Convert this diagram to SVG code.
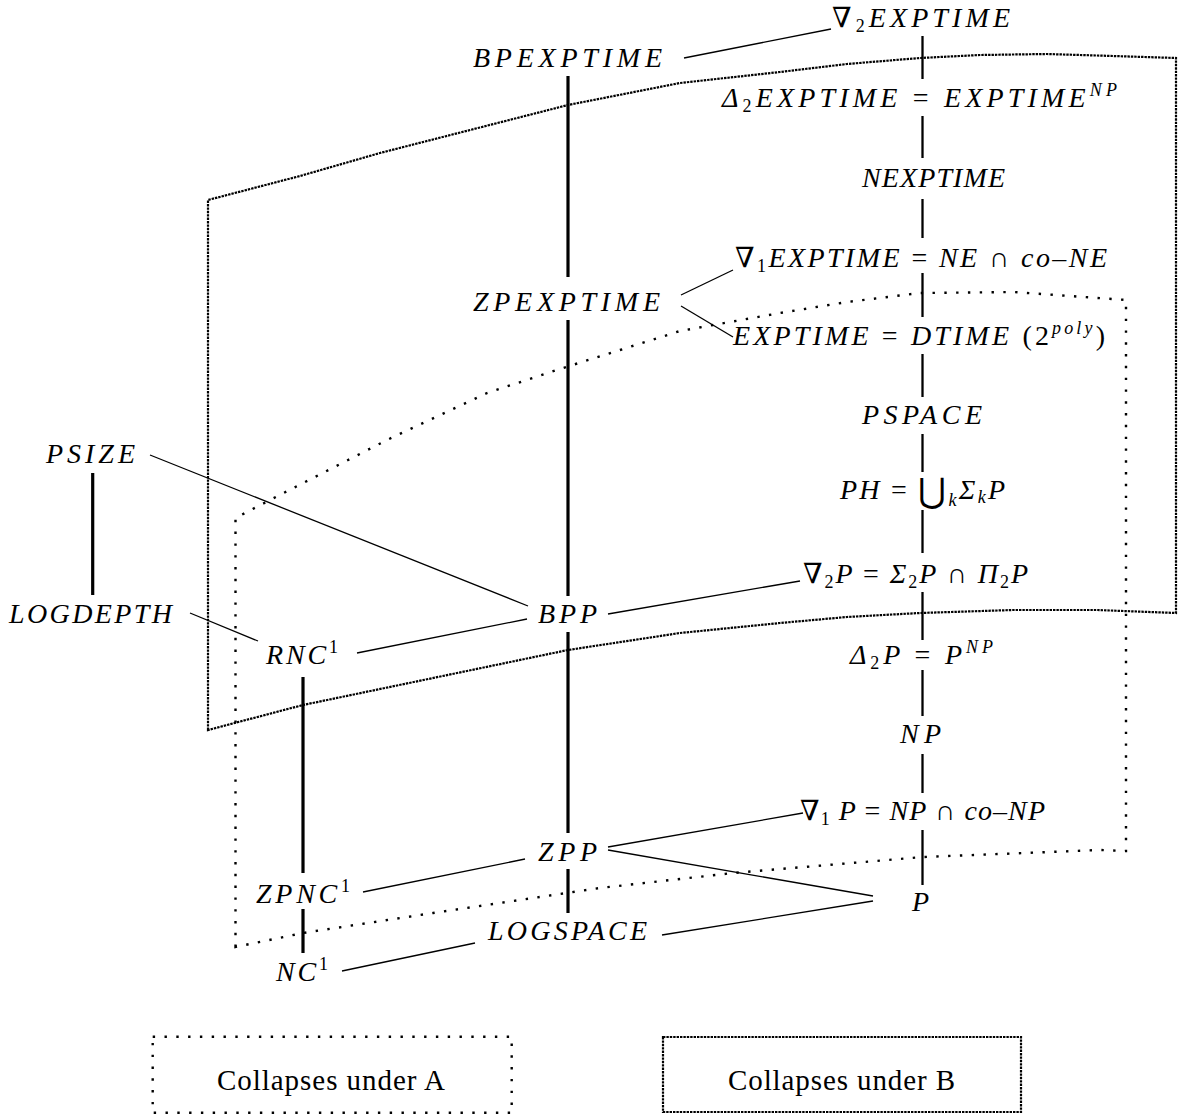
<svg xmlns="http://www.w3.org/2000/svg" width="1181" height="1114" viewBox="0 0 1181 1114">
<style>
  .t { font-family: "Liberation Serif", "DejaVu Serif", serif; font-size: 28px; font-style: italic; fill: #000; }
  .u { font-style: normal; }
  .sub { font-size: 18px; font-style: normal; }
  .subi { font-size: 18px; font-style: italic; }
  .big { font-size: 34px; font-style: normal; }
  .leg { font-family: "Liberation Serif", "DejaVu Serif", serif; font-size: 29px; fill: #000; }
  .thick { stroke: #000; stroke-width: 3.2; fill: none; }
  .mid { stroke: #000; stroke-width: 2.3; fill: none; }
  .thin { stroke: #000; stroke-width: 1.3; fill: none; }
  .regA { fill: none; stroke: #000; stroke-width: 2.4; stroke-dasharray: 2.4 9.4; }
  .regB { fill: none; stroke: #000; stroke-width: 2.2; stroke-dasharray: 2.4 1; }
</style>
<rect width="1181" height="1114" fill="#fff"/>

<g id="regions">
  <path id="regionB" class="regB" d="M208,730 L208,200 L300,176 L380,153 L568,105 L680,83 L780,72 L847,64 L920,58 L980,55 L1047,54 L1113,56 L1176,58 L1176,613 L1097,610 L1013,610 L920,613 L847,617 L780,623 L680,633 L568,650 L303,705 Z"/>
  <path id="regionA" class="regA" d="M235.5,947 L235.5,518 L270,500 L387,440 L487,393 L563,368 L620,350 L680,331 L780,313 L847,302 L920,293 L1013,292 L1126,300 L1126,851 L1100,850 L923,857 L733,873 L600,888 L433,913 L303,933 Z"/>
</g>

<g id="connectors">
  <line class="thick" x1="568" y1="76" x2="568" y2="277"/>
  <line class="thick" x1="568" y1="320" x2="568" y2="596"/>
  <line class="thick" x1="568" y1="632" x2="568" y2="833"/>
  <line class="thick" x1="568" y1="869" x2="568" y2="913"/>
  <line class="thick" x1="92.7" y1="473" x2="92.7" y2="595"/>
  <line class="thick" x1="303" y1="677" x2="303" y2="873"/>
  <line class="thick" x1="303" y1="909" x2="303" y2="953"/>
  <line class="mid" x1="922.5" y1="36" x2="922.5" y2="79"/>
  <line class="mid" x1="922.5" y1="116" x2="922.5" y2="158"/>
  <line class="mid" x1="922.5" y1="199" x2="922.5" y2="238"/>
  <line class="mid" x1="922.5" y1="273" x2="922.5" y2="317"/>
  <line class="mid" x1="922.5" y1="354" x2="922.5" y2="397"/>
  <line class="mid" x1="922.5" y1="434" x2="922.5" y2="472"/>
  <line class="mid" x1="922.5" y1="510" x2="922.5" y2="553"/>
  <line class="mid" x1="922.5" y1="592" x2="922.5" y2="640"/>
  <line class="mid" x1="922.5" y1="670" x2="922.5" y2="716"/>
  <line class="mid" x1="922.5" y1="754" x2="922.5" y2="793"/>
  <line class="mid" x1="922.5" y1="830" x2="922.5" y2="885"/>
  <line class="thin" x1="684" y1="58" x2="831" y2="29"/>
  <line class="thin" x1="681" y1="295" x2="733" y2="270"/>
  <line class="thin" x1="681" y1="306" x2="733" y2="337"/>
  <line class="thin" x1="150" y1="455" x2="528" y2="606"/>
  <line class="thin" x1="190" y1="613" x2="258" y2="641"/>
  <line class="thin" x1="357" y1="653" x2="527" y2="619"/>
  <line class="thin" x1="608" y1="614" x2="800" y2="581"/>
  <line class="thin" x1="363" y1="892" x2="525" y2="859"/>
  <line class="thin" x1="608" y1="847" x2="803" y2="813"/>
  <line class="thin" x1="608" y1="850" x2="873" y2="896"/>
  <line class="thin" x1="662" y1="935" x2="873" y2="901"/>
  <line class="thin" x1="342" y1="971" x2="475" y2="943"/>
</g>

<g id="nodes">
  <g id="n-nabla2exptime"><text class="t" x="832" y="27" textLength="178" lengthAdjust="spacing"><tspan class="u">∇</tspan><tspan class="sub" dy="5">2</tspan><tspan dy="-5">EXPTIME</tspan></text></g>
  <g id="n-bpexptime"><text class="t" x="473" y="67" textLength="189" lengthAdjust="spacing">BPEXPTIME</text></g>
  <g id="n-delta2exptime"><text class="t" x="722" y="107" textLength="395" lengthAdjust="spacing">Δ<tspan class="sub" dy="5">2</tspan><tspan dy="-5">EXPTIME </tspan><tspan class="u">=</tspan> EXPTIME<tspan class="subi" dy="-11">NP</tspan></text></g>
  <g id="n-nexptime"><text class="t" x="862" y="187" textLength="143" lengthAdjust="spacing">NEXPTIME</text></g>
  <g id="n-nabla1exptime"><text class="t" x="735" y="267" textLength="372" lengthAdjust="spacing"><tspan class="u">∇</tspan><tspan class="sub" dy="5">1</tspan><tspan dy="-5">EXPTIME </tspan><tspan class="u">=</tspan> NE <tspan class="u">∩</tspan> co<tspan class="u">–</tspan>NE</text></g>
  <g id="n-zpexptime"><text class="t" x="473" y="311" textLength="187" lengthAdjust="spacing">ZPEXPTIME</text></g>
  <g id="n-exptime"><text class="t" x="733" y="345" textLength="372" lengthAdjust="spacing">EXPTIME <tspan class="u">=</tspan> DTIME <tspan class="u">(2</tspan><tspan class="subi" dy="-11">poly</tspan><tspan class="u" dy="11">)</tspan></text></g>
  <g id="n-pspace"><text class="t" x="862" y="424" textLength="120" lengthAdjust="spacing">PSPACE</text></g>
  <g id="n-psize"><text class="t" x="46" y="463" textLength="89" lengthAdjust="spacing">PSIZE</text></g>
  <g id="n-ph"><text class="t" x="840" y="499" textLength="165" lengthAdjust="spacing">PH <tspan class="u">= </tspan><tspan class="big" dy="3">⋃</tspan><tspan class="subi" dy="4">k</tspan><tspan dy="-7">Σ</tspan><tspan class="subi" dy="4">k</tspan><tspan dy="-4">P</tspan></text></g>
  <g id="n-nabla2p"><text class="t" x="803" y="583" textLength="225" lengthAdjust="spacing"><tspan class="u">∇</tspan><tspan class="sub" dy="5">2</tspan><tspan dy="-5">P </tspan><tspan class="u">=</tspan> Σ<tspan class="sub" dy="5">2</tspan><tspan dy="-5">P </tspan><tspan class="u">∩</tspan> Π<tspan class="sub" dy="5">2</tspan><tspan dy="-5">P</tspan></text></g>
  <g id="n-bpp"><text class="t" x="538" y="623" textLength="59" lengthAdjust="spacing">BPP</text></g>
  <g id="n-logdepth"><text class="t" x="9" y="623" textLength="163" lengthAdjust="spacing">LOGDEPTH</text></g>
  <g id="n-rnc1"><text class="t" x="266" y="664" textLength="72" lengthAdjust="spacing">RNC<tspan class="sub" dy="-11">1</tspan></text></g>
  <g id="n-delta2p"><text class="t" x="850" y="664" textLength="143" lengthAdjust="spacing">Δ<tspan class="sub" dy="5">2</tspan><tspan dy="-5">P </tspan><tspan class="u">=</tspan> P<tspan class="subi" dy="-11">NP</tspan></text></g>
  <g id="n-np"><text class="t" x="900" y="743" textLength="41" lengthAdjust="spacing">NP</text></g>
  <g id="n-nabla1p"><text class="t" x="800" y="820" textLength="245" lengthAdjust="spacing"><tspan class="u">∇</tspan><tspan class="sub" dy="5">1</tspan><tspan dy="-5"> P </tspan><tspan class="u">=</tspan> NP <tspan class="u">∩</tspan> co<tspan class="u">–</tspan>NP</text></g>
  <g id="n-zpp"><text class="t" x="538" y="861" textLength="59" lengthAdjust="spacing">ZPP</text></g>
  <g id="n-zpnc1"><text class="t" x="256" y="903" textLength="94" lengthAdjust="spacing">ZPNC<tspan class="sub" dy="-11">1</tspan></text></g>
  <g id="n-p"><text class="t" x="912" y="911">P</text></g>
  <g id="n-logspace"><text class="t" x="488" y="940" textLength="159" lengthAdjust="spacing">LOGSPACE</text></g>
  <g id="n-nc1"><text class="t" x="276" y="981" textLength="52" lengthAdjust="spacing">NC<tspan class="sub" dy="-11">1</tspan></text></g>
</g>

<g id="legend">
  <g id="legendA">
    <rect class="regA" x="152.7" y="1036.7" width="359" height="76"/>
    <text class="leg" x="217" y="1090" textLength="228" lengthAdjust="spacing">Collapses under A</text>
  </g>
  <g id="legendB">
    <rect class="regB" x="663" y="1037" width="358" height="75"/>
    <text class="leg" x="728" y="1090" textLength="227" lengthAdjust="spacing">Collapses under B</text>
  </g>
</g>
</svg>
